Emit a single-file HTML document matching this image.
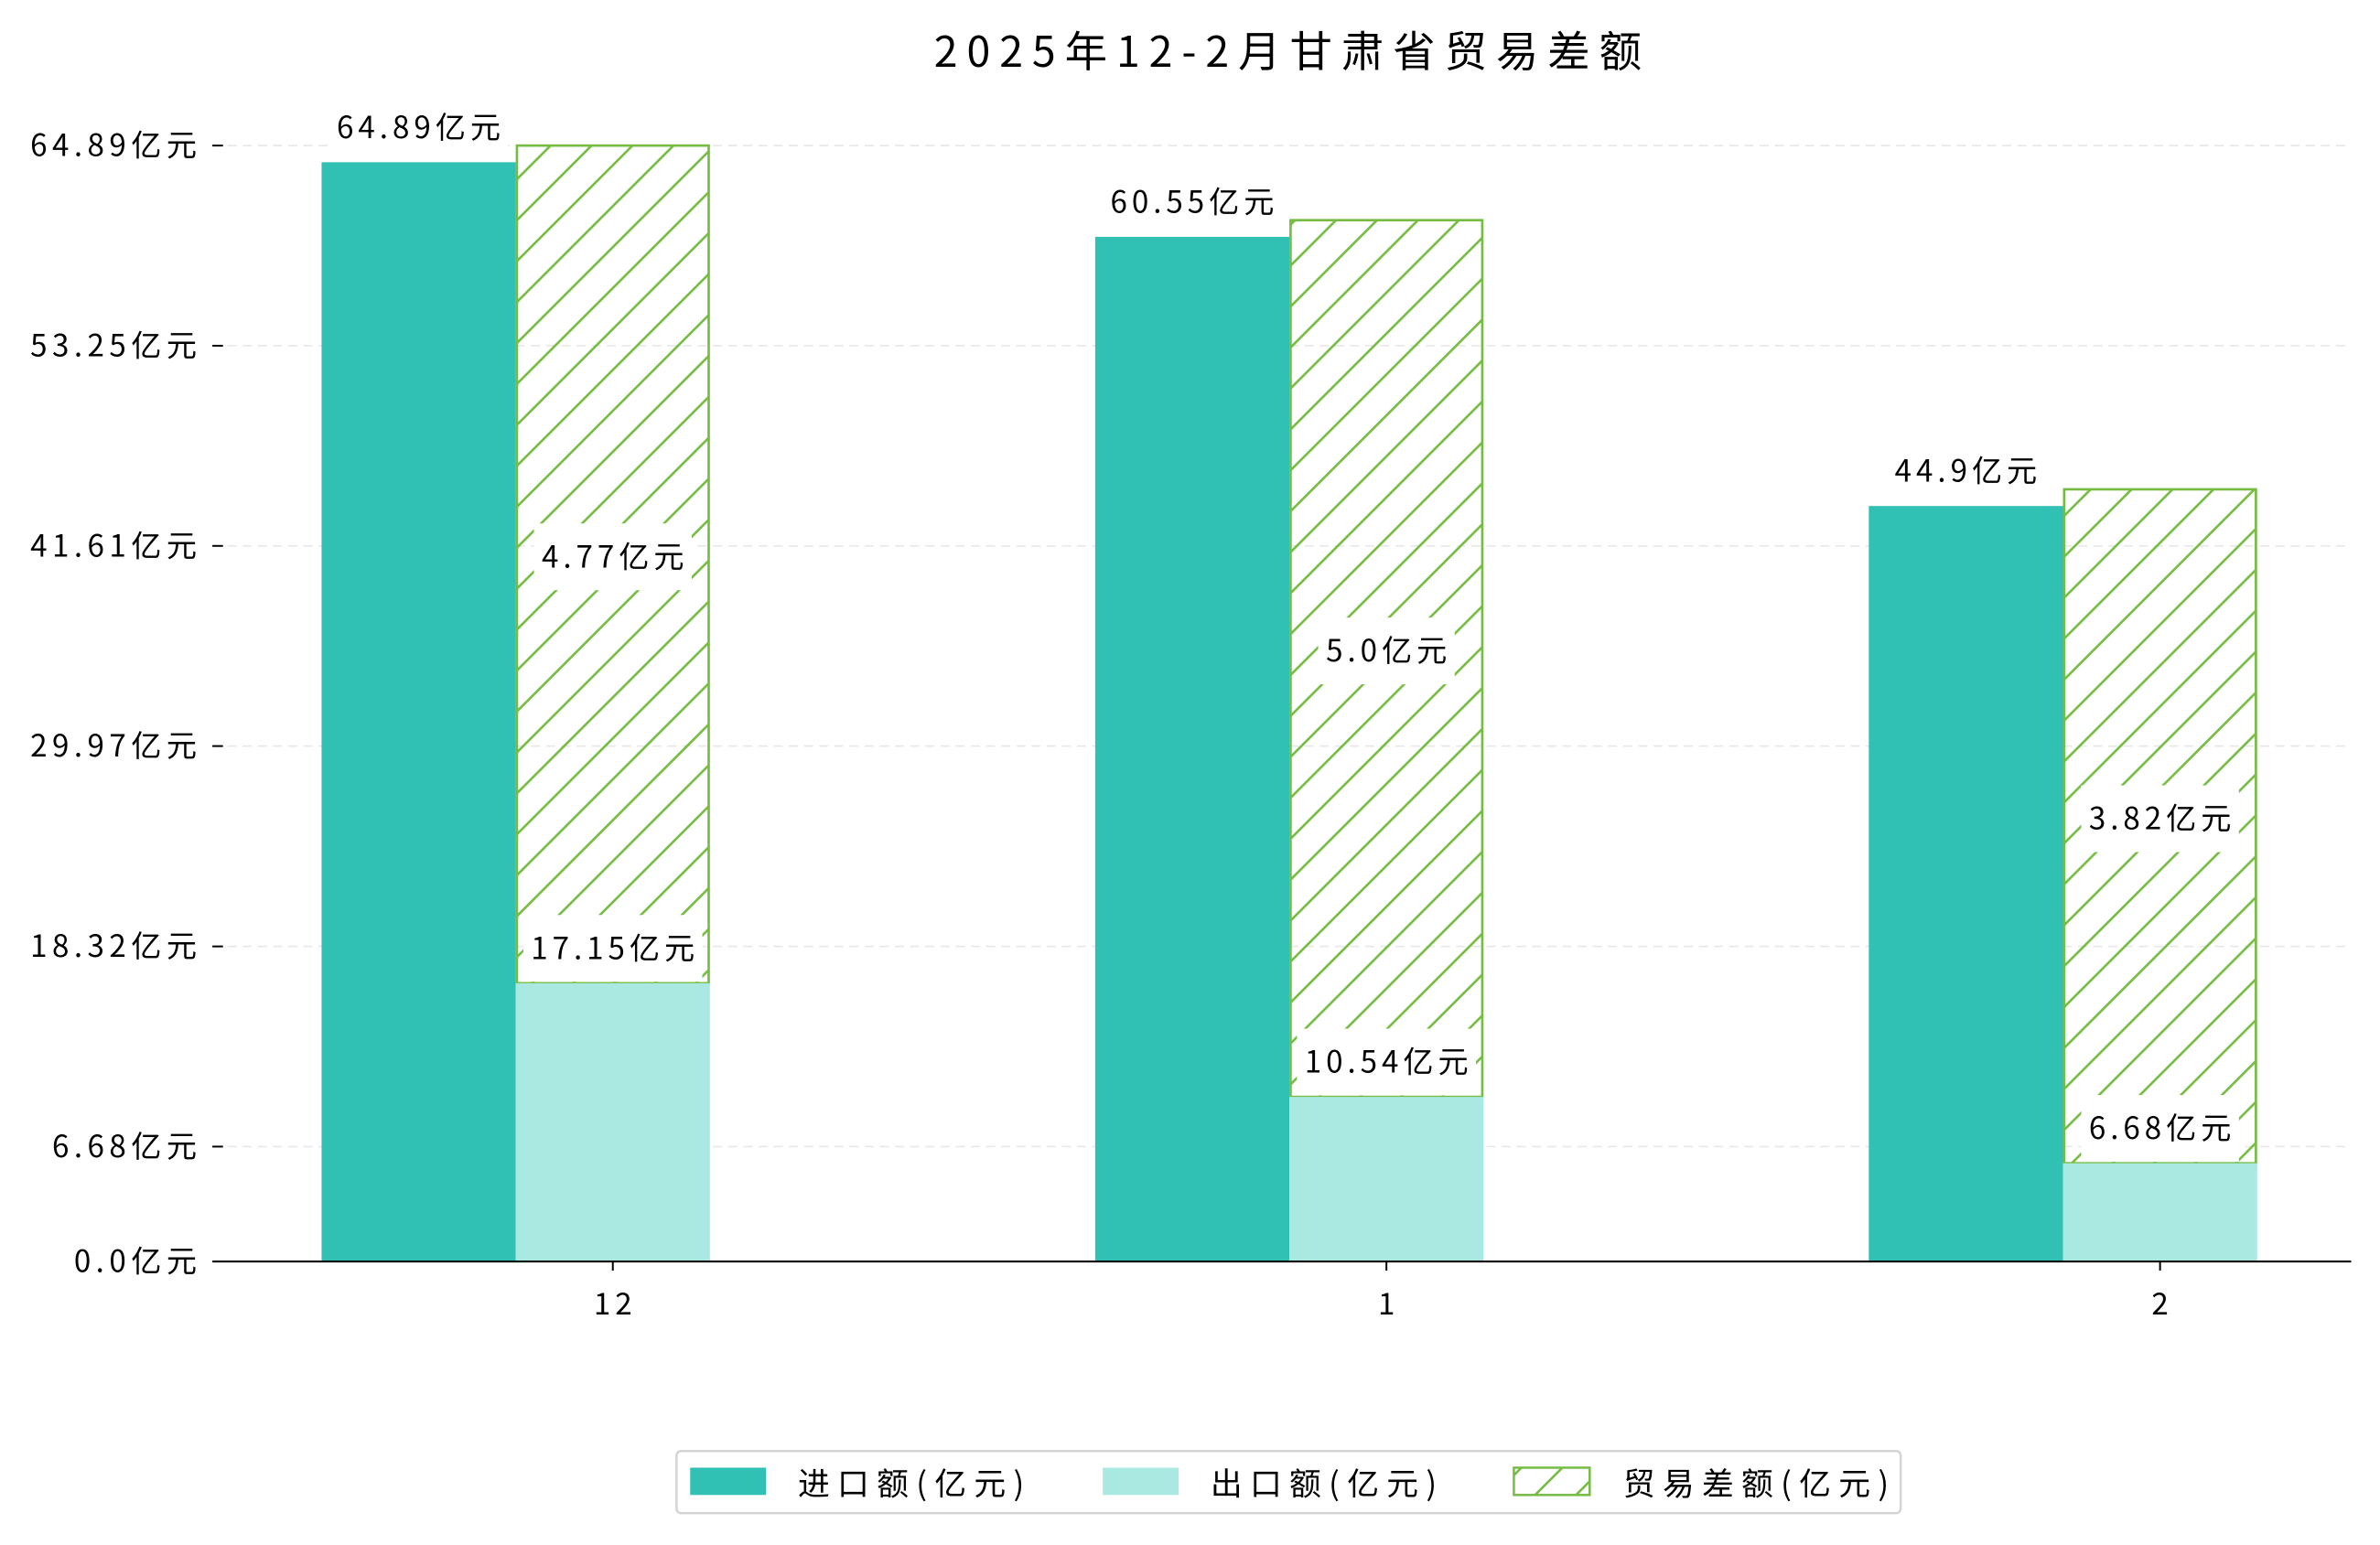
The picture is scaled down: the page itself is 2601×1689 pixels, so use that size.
<!DOCTYPE html>
<html><head><meta charset="utf-8"><style>
html,body{margin:0;padding:0;background:#fff}
svg{display:block}
text{font-family:"WenQuanYi Zen Hei","Noto Sans CJK SC",sans-serif;fill:#000}
</style></head><body>
<svg id="chart" width="2601" height="1689" viewBox="0 0 1569 1019" preserveAspectRatio="none" xmlns="http://www.w3.org/2000/svg">
<defs>
<pattern id="hatch" patternUnits="userSpaceOnUse" width="27" height="27">
<path d="M-7,34 L34,-7 M-7,7 L7,-7 M20,34 L34,20" stroke="#76bc43" stroke-width="1.6"/>
</pattern>
</defs>
<text x="852" y="44" font-size="28" letter-spacing="6" text-anchor="middle">2025年12-2月甘肃省贸易差额</text>
<g id="grid"></g>
<g id="bars"></g>
<g id="labels"></g>
<line x1="140" y1="832" x2="1550" y2="832" stroke="#000" stroke-width="1.3"/>
<g>
<rect x="446" y="957" width="807" height="41" rx="3" fill="#fff" stroke="#d4d4d4" stroke-width="1.5"/>
<rect x="455" y="968" width="50" height="18" fill="#30c0b4"/>
<text x="526" y="986" font-size="21" letter-spacing="5">进口额(亿元)</text>
<rect x="727" y="968" width="50" height="18" fill="#aae8e2"/>
<text x="798" y="986" font-size="21" letter-spacing="5">出口额(亿元)</text>
<rect x="998" y="968" width="50" height="18" fill="url(#hatch)" stroke="#76bc43" stroke-width="1.5"/>
<text x="1070" y="986" font-size="21" letter-spacing="5">贸易差额(亿元)</text>
</g>
</svg>
<script>
const categories = ["12", "1", "2"];
const importValues = [64.89, 60.55, 44.9];
const exportValues = [17.15, 10.54, 6.68];
const balanceValues = [4.77, 5.0, 3.82];
const yTickValues = [0.0, 6.68, 18.32, 29.97, 41.61, 53.25, 64.89];
const yTickLabels = ["0.0亿元", "6.68亿元", "18.32亿元", "29.97亿元", "41.61亿元", "53.25亿元", "64.89亿元"];

const NS = "http://www.w3.org/2000/svg";
const y0 = 832, yTop = 96, plotL = 140, plotR = 1550;
const yMax = yTickValues[yTickValues.length - 1];
function y(v) { return y0 - (v / yMax) * (y0 - yTop); }
const groupStart = 212, groupStep = 510, barW = 128, barOff = 11;
function gx(i) { return groupStart + i * groupStep; }
function mk(tag, attrs, parent) {
  const e = document.createElementNS(NS, tag);
  for (const k in attrs) e.setAttribute(k, attrs[k]);
  parent.appendChild(e);
  return e;
}
const grid = document.getElementById('grid');
const bars = document.getElementById('bars');
const labels = document.getElementById('labels');

yTickValues.forEach((v, i) => {
  const yy = y(v);
  if (v > 0) {
    const g = mk('line', {x1: plotL, x2: plotR, y1: yy, y2: yy, stroke: '#e8e8e8', 'stroke-dasharray': '6,4', 'stroke-width': 1}, grid);
    
    
    const t = mk('line', {x1: 140, x2: 147, y1: yy, y2: yy, stroke: '#000', 'stroke-width': 1.2}, grid);
    
    
  }
  const tx = mk('text', {x: 133, y: yy + 7, 'font-size': 20, 'letter-spacing': 3.3, 'text-anchor': 'end'}, grid);
  tx.textContent = yTickLabels[i];
  
  
});

function labelBox(cx, cy, txt, name, withBox) {
  if (withBox) {
    const w = txt.length * 14 + 20;
    const r = mk('rect', {x: cx - w / 2, y: cy - 22, width: w, height: 44, fill: '#fff'}, labels);
    
    
  }
  const t = mk('text', {x: cx + 1.5, y: cy + 7, 'font-size': 20, 'letter-spacing': 3, 'text-anchor': 'middle'}, labels);
  t.textContent = txt;
  
  
}

categories.forEach((c, i) => {
  const x = gx(i);
  const impTop = y(importValues[i]) + barOff;
  const expTop = y(exportValues[i]) + barOff;
  const balTop = y(importValues[i]);
  const r1 = mk('rect', {x: x, y: impTop, width: barW, height: y0 - impTop, fill: '#30c0b4'}, bars);
  
  
  const r3 = mk('rect', {x: x + barW + 0.8, y: balTop, width: barW - 1.6, height: expTop - balTop, fill: 'url(#hatch)', stroke: '#76bc43', 'stroke-width': 1.6}, bars);
  
  
  const r2 = mk('rect', {x: x + barW, y: expTop, width: barW, height: y0 - expTop, fill: '#aae8e2'}, bars);
  
  
  const tk = mk('line', {x1: x + barW * 1.5, x2: x + barW * 1.5, y1: y0, y2: y0 + 6, stroke: '#000', 'stroke-width': 1.2}, grid);
  
  
  const xl = mk('text', {x: x + barW * 1.5 + 1.5, y: y0 + 35, 'font-size': 20, 'letter-spacing': 3, 'text-anchor': 'middle'}, grid);
  xl.textContent = c;
  
  

  labelBox(x + barW / 2, impTop - 23, importValues[i] + '亿元', 'import-value-label', true);
  labelBox(x + barW * 1.5, (balTop + expTop) / 2 - 5, balanceValues[i].toFixed(balanceValues[i] % 1 === 0 ? 1 : 2) + '亿元', 'balance-value-label', true);
  labelBox(x + barW * 1.5, expTop - 23, exportValues[i] + '亿元', 'export-value-label', true);
});
</script>
</body></html>
